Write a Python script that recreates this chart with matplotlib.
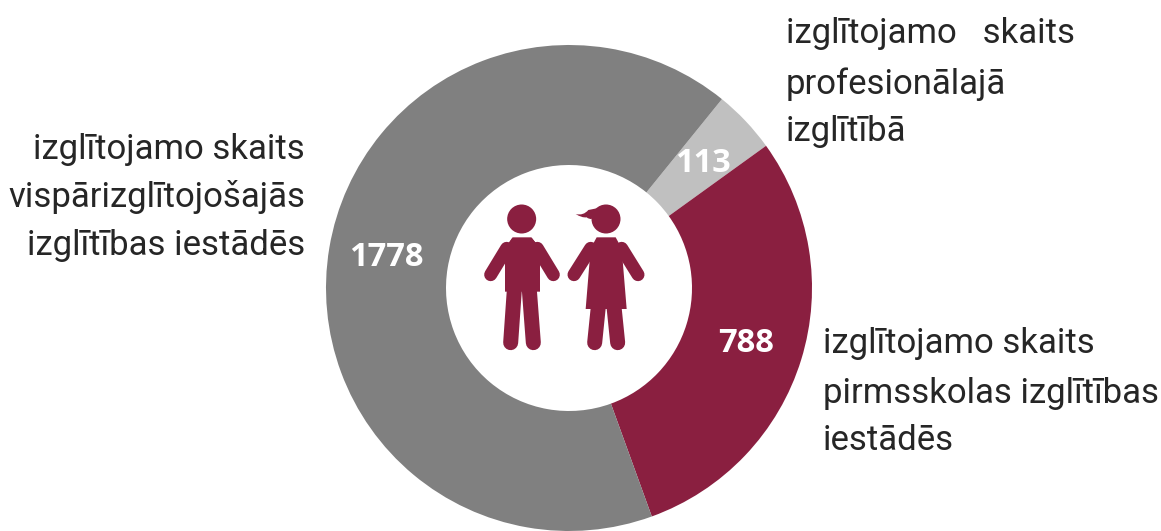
import matplotlib
matplotlib.use("Agg")
import matplotlib.pyplot as plt
from matplotlib.patches import Circle, Polygon, PathPatch
from matplotlib.path import Path
from matplotlib.lines import Line2D

plt.rcParams['font.family'] = ['Roboto', 'DejaVu Sans']

categories = ['profesionālā', 'pirmsskolas', 'vispārizglītojošā']
values = [113, 788, 1778]
value_labels = ['113', '788', '1778']
colors = ['#c0c0c0', '#8a1f40', '#808080']
captions = [['izglītojamo   skaits', 'profesionālajā', 'izglītībā'],
            ['izglītojamo skaits', 'pirmsskolas izglītības', 'iestādēs'],
            ['izglītojamo skaits', 'vispārizglītojošajās', 'izglītības iestādēs']]

W, H = 1161, 531
MAROON = '#8a1f40'
TEXT = '#262626'
fig = plt.figure(figsize=(W/100, H/100), dpi=100)
ax = fig.add_axes([0, 0, 1, 1])

cx, cy, R, r = 569, 288, 243, 123
# the y axis is inverted below, so a data angle of -51 is 51 degrees on screen
ax.pie(values, colors=colors, startangle=-51, counterclock=True,
       center=(cx, cy), radius=R,
       wedgeprops=dict(width=R-r, edgecolor='none'))
ax.set_xlim(0, W)
ax.set_ylim(0, H)
ax.set_aspect('equal')
ax.invert_yaxis()
ax.axis('off')


def Z(x, y):
    """icon outline coordinates to figure pixels"""
    return (460 + x/3, 180 + y/3)


def limb(p0, p1, w):
    a, b = Z(*p0), Z(*p1)
    ax.add_line(Line2D([a[0], b[0]], [a[1], b[1]], color=MAROON, lw=w*0.72,
                       solid_capstyle='round', zorder=5))


def poly(pts):
    ax.add_patch(Polygon([Z(*p) for p in pts], closed=True, fc=MAROON, ec='none', zorder=5))


# boy
ax.add_patch(Circle(Z(185, 117), 14.5, fc=MAROON, ec='none', zorder=5))
poly([(158, 172), (214, 172), (240, 205), (240, 335), (135, 335), (135, 205)])
poly([(158, 172), (135, 250), (135, 205)])
poly([(214, 172), (240, 250), (240, 205)])
limb((140, 205), (92, 284), 13)
limb((232, 205), (280, 284), 13)
limb((163, 330), (152, 488), 15)
limb((208, 330), (220, 488), 15)

# girl
ax.add_patch(Circle(Z(438, 117), 14.5, fc=MAROON, ec='none', zorder=5))
poly([(410, 172), (467, 172), (485, 205), (500, 387), (377, 387), (392, 205)])
limb((392, 205), (342, 284), 13)
limb((485, 205), (534, 284), 13)
limb((415, 380), (404, 488), 15)
limb((462, 380), (473, 488), 15)
ax.add_patch(PathPatch(Path([Z(347, 102), Z(370, 108), Z(385, 90), Z(410, 85),
                             Z(412, 105), Z(395, 125), Z(380, 112), Z(365, 114), Z(347, 102)],
                            [Path.MOVETO, Path.CURVE3, Path.CURVE3, Path.LINETO,
                             Path.LINETO, Path.CURVE3, Path.CURVE3, Path.CURVE3, Path.CURVE3]),
                       fc=MAROON, ec='none', zorder=5))

# values on the ring
for label, (x, y) in zip(value_labels, [(703, 164), (746, 343), (386, 257)]):
    ax.text(x, y, label, color='white', fontsize=23.5, fontweight='bold',
            family=['Open Sans', 'DejaVu Sans'], ha='center', va='center', zorder=6)

# captions
fs = 25
for line, y in zip(captions[0], [33, 84, 132]):
    ax.text(786, y, line, color=TEXT, fontsize=fs, ha='left', va='center')
for line, y in zip(captions[1], [344, 393, 441]):
    ax.text(823, y, line, color=TEXT, fontsize=fs, ha='left', va='center')
for line, y in zip(captions[2], [149, 197, 245]):
    ax.text(305, y, line, color=TEXT, fontsize=fs, ha='right', va='center')

fig.savefig('out.png', dpi=100, facecolor='white')
